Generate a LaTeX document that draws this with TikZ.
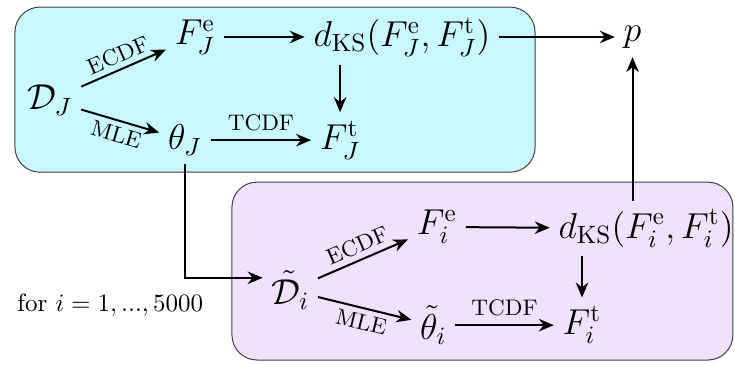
\documentclass[tikz,border=0pt]{standalone}
\usepackage{amsmath}
\usetikzlibrary{arrows.meta,positioning}

\definecolor{outerbg}{RGB}{202,248,255}
\definecolor{innerbg}{RGB}{240,225,253}

\begin{document}
\begin{tikzpicture}[
  >={Stealth[length=6pt,width=5pt]},
  every node/.style={font=\Large},
  flow/.style={->, thick},
  lbl/.style={font=\small, sloped, inner sep=2pt},
  panelj/.style={rounded corners=10pt, draw=black!75, fill=outerbg},
  paneli/.style={rounded corners=10pt, draw=black!75, fill=innerbg}
]
\useasboundingbox (0,0) rectangle (10.33,5.12);

% Panels for the observed data and the resampled data.
\draw[panelj] (0.21,2.70) rectangle (7.52,5.02);
\draw[paneli] (3.26,0.06) rectangle (10.30,2.56);

% Observed sample J.
\node (dataJ) at (0.70,3.71) {$\mathcal{D}_J$};
\node (empJ) at (2.74,4.60) {$F_J^{\mathrm{e}}$};
\node (distJ) at (5.65,4.60) {$d_{\mathrm{KS}}(F_J^{\mathrm{e}},F_J^{\mathrm{t}})$};
\node (pval) at (8.89,4.60) {$p$};
\node (thetaJ) at (2.60,3.15) {$\theta_J$};
\node (theoJ) at (4.78,3.15) {$F_J^{\mathrm{t}}$};

% Resampled data i.
\node (datai) at (4.08,1.04) {$\tilde{\mathcal{D}}_i$};
\node (empi) at (6.14,1.93) {$F_i^{\mathrm{e}}$};
\node (disti) at (9.08,1.91) {$d_{\mathrm{KS}}(F_i^{\mathrm{e}},F_i^{\mathrm{t}})$};
\node (thetai) at (6.09,0.55) {$\tilde{\theta}_i$};
\node (theoi) at (8.18,0.55) {$F_i^{\mathrm{t}}$};
\node[font=\normalsize] (loop) at (1.55,0.83) {for $i=1,...,5000$};

% Arrows in the top panel.
\draw[flow] (dataJ) -- node[lbl, above] {ECDF} (empJ);
\draw[flow] (dataJ) -- node[lbl, below] {MLE} (thetaJ);
\draw[flow] (empJ) -- (distJ);
\draw[flow] (thetaJ) -- node[font=\small, above] {TCDF} (theoJ);
\draw[flow] (distJ.south -| theoJ) -- (theoJ);
\draw[flow] (distJ) -- (pval);

% Arrows in the bottom panel.
\draw[flow] (thetaJ) |- ([yshift=5pt]datai.west);
\draw[flow] (datai) -- node[lbl, above] {ECDF} (empi);
\draw[flow] (datai) -- node[lbl, below] {MLE} (thetai);
\draw[flow] (empi) -- (disti);
\draw[flow] (thetai) -- node[font=\small, above] {TCDF} (theoi);
\draw[flow] (disti.south -| theoi) -- (theoi);
\draw[flow] (disti.north -| pval) -- (pval);

\end{tikzpicture}
\end{document}
